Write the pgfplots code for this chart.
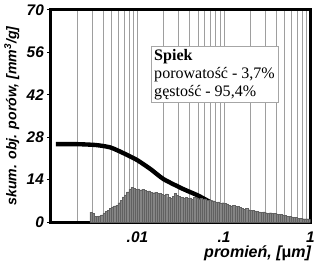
\documentclass[border=0pt]{standalone}
\usepackage{fontspec}
\setmainfont{Liberation Serif}
\newfontfamily\arialf{Liberation Sans}
\usepackage{pgfplots}
\pgfplotsset{compat=1.18}
\usepackage{pgfplotstable}
\pgfplotstableread{
x y
2.8184e-3 3.3
2.9854e-3 3.0
3.1623e-3 2.0
3.3497e-3 1.8
3.5481e-3 2.1
3.7584e-3 2.4
3.9811e-3 2.9
4.2170e-3 3.5
4.4668e-3 4.0
4.7315e-3 4.6
5.0119e-3 5.0
5.3088e-3 5.4
5.6234e-3 5.6
5.9566e-3 6.4
6.3096e-3 7.2
6.6834e-3 8.3
7.0795e-3 9.0
7.4989e-3 10.0
7.9433e-3 10.8
8.4140e-3 11.4
8.9125e-3 11.2
9.4406e-3 10.9
1.0000e-2 11.0
1.0593e-2 10.6
1.1220e-2 10.8
1.1885e-2 10.4
1.2589e-2 10.1
1.3335e-2 10.3
1.4125e-2 9.9
1.4962e-2 9.7
1.5849e-2 9.9
1.6788e-2 9.4
1.7783e-2 9.6
1.8836e-2 9.1
1.9953e-2 8.8
2.1135e-2 9.3
2.2387e-2 8.2
2.3714e-2 7.9
2.5119e-2 8.5
2.6607e-2 9.6
2.8184e-2 8.9
2.9854e-2 8.4
3.1623e-2 8.1
3.3497e-2 7.9
3.5481e-2 8.2
3.7584e-2 7.8
3.9811e-2 8.0
4.2170e-2 7.6
4.4668e-2 8.1
4.7315e-2 7.9
5.0119e-2 7.6
5.3088e-2 7.9
5.6234e-2 7.4
5.9566e-2 7.7
6.3096e-2 7.1
6.6834e-2 7.3
7.0795e-2 6.8
7.4989e-2 7.0
7.9433e-2 6.5
8.4140e-2 6.7
8.9125e-2 6.2
9.4406e-2 6.4
1.0000e-1 6.3
1.0593e-1 6.0
1.1220e-1 5.6
1.1885e-1 5.4
1.2589e-1 5.5
1.3335e-1 5.2
1.4125e-1 5.3
1.4962e-1 4.9
1.5849e-1 4.6
1.6788e-1 4.3
1.7783e-1 4.5
1.8836e-1 4.1
1.9953e-1 3.9
2.1135e-1 4.0
2.2387e-1 3.7
2.3714e-1 3.6
2.5119e-1 3.4
2.6607e-1 3.3
2.8184e-1 3.4
2.9854e-1 3.1
3.1623e-1 3.0
3.3497e-1 3.1
3.5481e-1 2.9
3.7584e-1 2.8
3.9811e-1 2.7
4.2170e-1 2.6
4.4668e-1 2.6
4.7315e-1 2.4
5.0119e-1 2.2
5.3088e-1 2.0
5.6234e-1 1.9
5.9566e-1 1.7
6.3096e-1 1.6
6.6834e-1 1.5
7.0795e-1 1.3
7.4989e-1 1.2
7.9433e-1 1.1
8.4140e-1 1.0
8.9125e-1 1.0
9.4406e-1 0.9
1.0000e0 0.9
}\bars
\begin{document}
\begin{tikzpicture}
\begin{axis}[
  scale only axis,
  width=202.5pt, height=165.75pt,
  xmode=log,
  xmin=0.001, xmax=1,
  ymin=0, ymax=70,
  xtick={0.01,0.1,1},
  xticklabels={.01,.1,1},
  minor xtick={0.002,0.003,0.004,0.005,0.006,0.007,0.008,0.009,0.02,0.03,0.04,0.05,0.06,0.07,0.08,0.09,0.2,0.3,0.4,0.5,0.6,0.7,0.8,0.9},
  xmajorgrids, xminorgrids,
  major x grid style={black!38, line width=0.6pt},
  minor x grid style={black!38, line width=0.6pt},
  ytick={0,14,28,42,56,70},
  tick pos=left,
  tick align=outside,
  major tick length=3pt,
  minor tick length=0pt,
  xtick style={draw=none},
  ytick style={black, line width=0.6pt},
  /pgf/number format/assume math mode=true,
  ticklabel style={font=\arialf\bfseries\itshape\fontsize{12}{13}\selectfont},
  xticklabel style={yshift=-1pt},
  yticklabel style={xshift=1pt},
  axis line style={line width=2.2pt},
  xlabel={promień, [{\upshape μ}m]},
  xlabel style={font=\arialf\bfseries\itshape\fontsize{12.5}{14}\selectfont, at={(rel axis cs:1,0)}, anchor=north east, xshift=4pt, yshift=-15pt},
  ylabel={skum. obj. porów, [mm\textsuperscript{3}/g]},
  ylabel style={font=\arialf\bfseries\itshape\fontsize{11}{13}\selectfont, yshift=-1pt},
]
\addplot[black, line width=3.4pt, smooth, tension=0.4] coordinates {
(0.00114,25.7) (0.002,25.7) (0.00333,25.4) (0.00489,24.6) (0.00717,22.5) (0.01,20.4) (0.0143,17.4) (0.02,14.2) (0.0333,11.0) (0.05,8.8) (0.07,6.6) (0.1,5.0) (0.2,3.0) (0.5,0.8) (1,0.3)
};
\addplot[ybar interval, fill=black!48, draw=black!62, line width=0.3pt] table {\bars};
\node[draw=black!35, line width=0.4pt, fill=white, anchor=north west, align=left, inner xsep=2pt, inner ysep=2pt, minimum width=99pt, font=\fontsize{12.5}{14}\selectfont] at (rel axis cs:0.385,0.827) {\textbf{Spiek}\\porowatość - 3,7\%\\gęstość - 95,4\%};
\end{axis}
\end{tikzpicture}
\end{document}
